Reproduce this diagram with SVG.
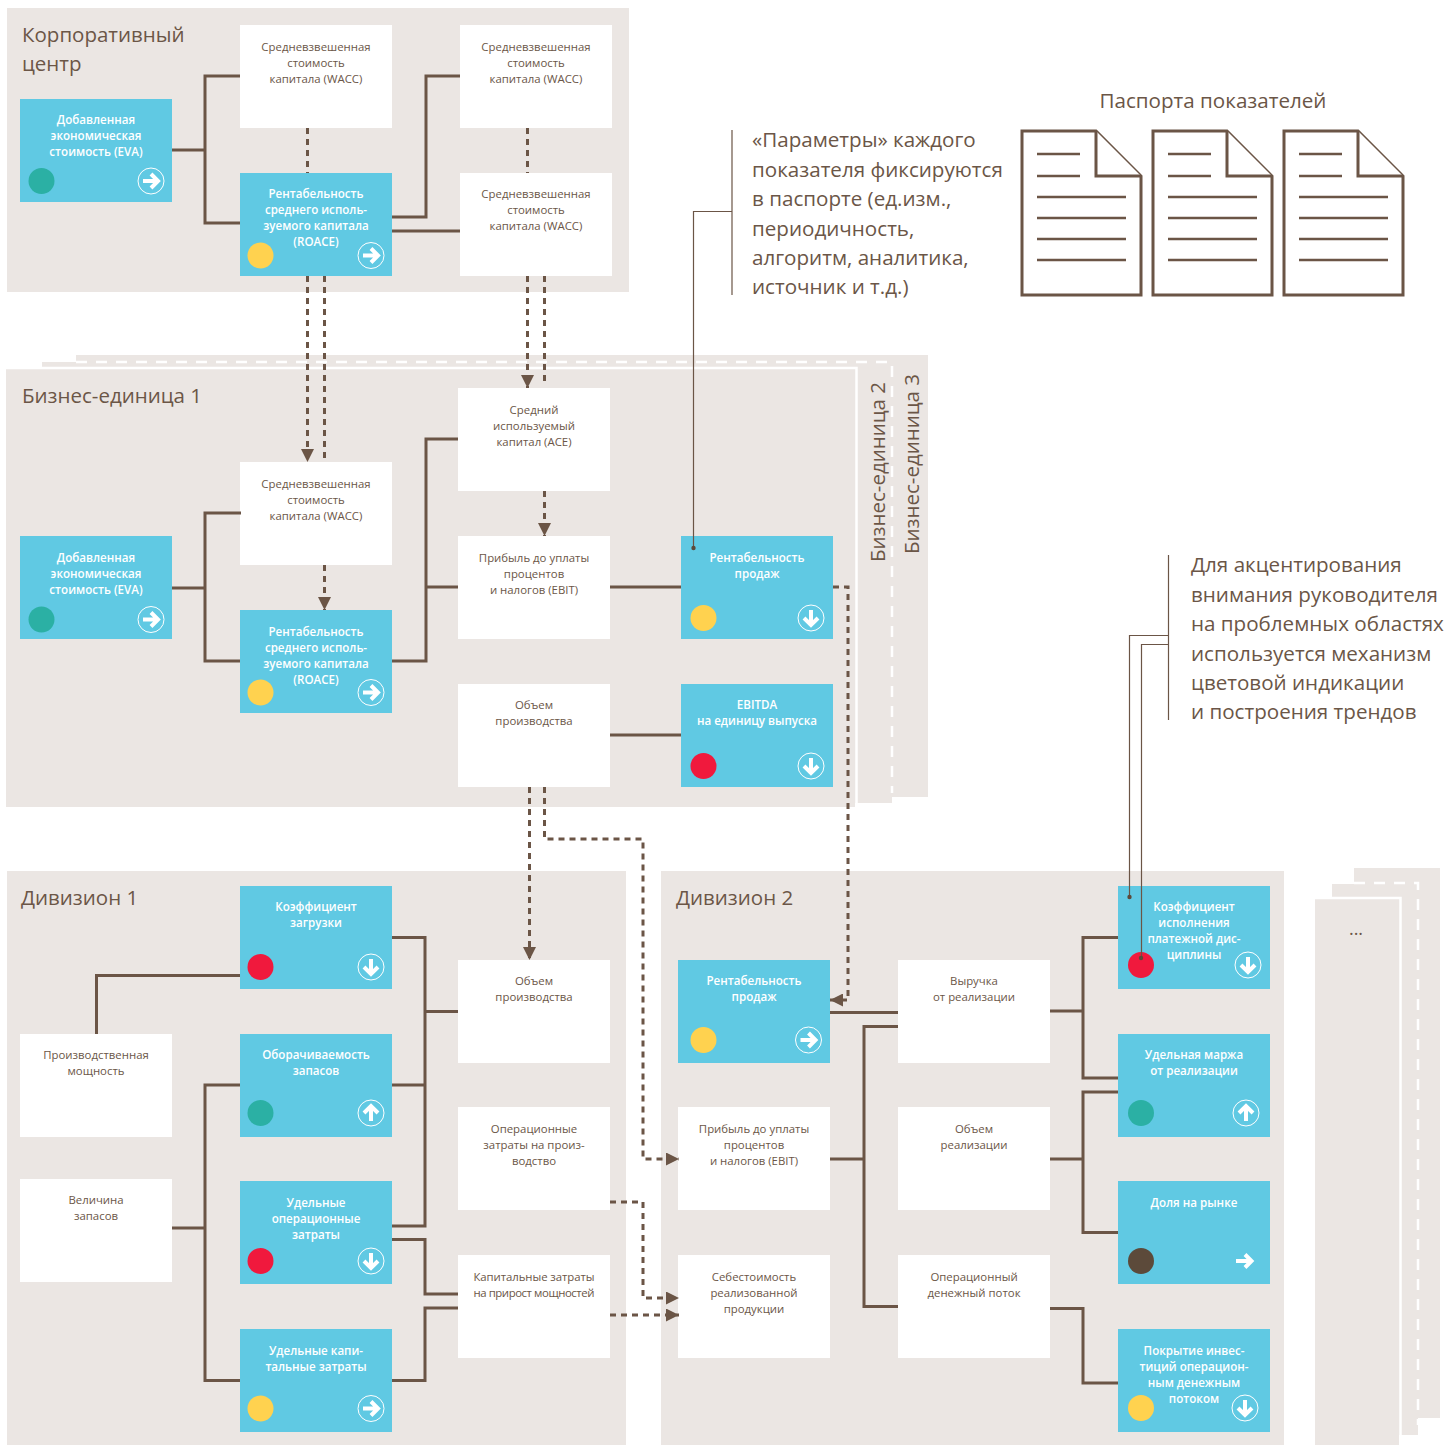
<svg xmlns="http://www.w3.org/2000/svg" xmlns:xlink="http://www.w3.org/1999/xlink" width="1451" height="1445" viewBox="0 0 1451 1445">
<style>
.p{fill:#ebe6e3}
.w{fill:#fff}
.b{fill:#60c9e3}
.ln{fill:none;stroke:#6b5546;stroke-width:3}
.d{fill:none;stroke:#6b5546;stroke-width:3;stroke-dasharray:6 5}
.th{fill:none;stroke:#6b5546;stroke-width:1.2}
.wd{fill:none;stroke:#fff;stroke-width:2.5;stroke-dasharray:11 9}
.ws{fill:none;stroke:#fff;stroke-width:2.5}
text{font-family:"Open Sans","Noto Sans","DejaVu Sans",sans-serif}
.t{font-size:11.4px;fill:#6b5647;text-anchor:middle}
.tb{font-size:11.6px;fill:#fff;font-weight:600;text-anchor:middle}
.h{font-size:20.5px;fill:#6b5647}
.n{font-size:20.6px;fill:#6b5647}
.teal{fill:#2bb0a4}.yel{fill:#ffd24f}.red{fill:#f0193d}.dk{fill:#5c4a3a}
.ic{fill:none;stroke:#fff;stroke-width:1}
.ar{fill:none;stroke:#fff;stroke-width:4}
.doc{fill:#fff;stroke:#6b5546;stroke-width:3;stroke-linejoin:miter}
.dl{fill:none;stroke:#6b5546;stroke-width:2.4}
</style>
<defs>
<g id="right"><circle class="ic" r="13"/><path class="ar" d="M-8,0H6M0,-7L7,0L0,7"/></g>
<g id="down"><circle class="ic" r="13"/><path class="ar" d="M0,-8V6M-7,0L0,7L7,0"/></g>
<g id="up"><circle class="ic" r="13"/><path class="ar" d="M0,8V-6M-7,0L0,-7L7,0"/></g>
<marker id="ah" viewBox="0 0 10 10" refX="10" refY="5" markerUnits="userSpaceOnUse" markerWidth="13" markerHeight="13" orient="auto"><path d="M0,0L10,5L0,10Z" fill="#6b5546"/></marker>
<g id="doc"><path class="doc" d="M1022,131H1096L1141,176V295H1022Z"/><path class="doc" d="M1096,131V176H1141"/><path class="dl" d="M1037,154H1080M1037,176H1080M1037,197H1126M1037,218H1126M1037,239H1126M1037,260H1126"/></g>
</defs>

<g id="backgrounds">
<rect class="p" x="7" y="8" width="622" height="284"/>
<rect class="p" x="76" y="355" width="852" height="442"/>
<rect class="p" x="42" y="362" width="850" height="441"/>
<path class="wd" d="M76,362H892V793"/>
<rect class="p" x="6" y="369" width="849" height="438"/>
<path class="ws" d="M6,368H856.500V807"/>
<rect class="p" x="7" y="871" width="619" height="574"/>
<rect class="p" x="661" y="871" width="623" height="574"/>
<rect class="p" x="1354" y="868" width="86" height="550"/>
<rect class="p" x="1332" y="884" width="86" height="551"/>
<path class="wd" d="M1354,883H1418V1425"/>
<rect class="p" x="1315" y="899" width="84" height="546"/>
<path class="ws" d="M1315,898H1400.500V1445"/>
</g>

<g id="titles">
<text class="h" x="22" y="42">Корпоративный</text>
<text class="h" x="22" y="71">центр</text>
<text class="h" x="22" y="403">Бизнес-единица 1</text>
<text class="h" x="21" y="905">Дивизион 1</text>
<text class="h" x="676" y="905">Дивизион 2</text>
<text class="h" transform="translate(885,562) rotate(-90)">Бизнес-единица 2</text>
<text class="h" transform="translate(919,554) rotate(-90)">Бизнес-единица 3</text>
<text class="t" x="1356" y="935" style="font-size:18px">...</text>
</g>

<g id="c-eva"><rect class="b" x="20" y="99" width="152" height="103"/><text class="tb"><tspan x="96" y="124">Добавленная</tspan><tspan x="96" y="140">экономическая</tspan><tspan x="96" y="156">стоимость (EVA)</tspan></text><circle class="teal" cx="41.500" cy="181" r="13"/><use href="#right" x="151" y="181"/></g>
<g id="c-wacc1"><rect class="w" x="240" y="25" width="152" height="103"/><text class="t"><tspan x="316" y="51">Средневзвешенная</tspan><tspan x="316" y="67">стоимость</tspan><tspan x="316" y="83">капитала (WACC)</tspan></text></g>
<g id="c-wacc2"><rect class="w" x="460" y="25" width="152" height="103"/><text class="t"><tspan x="536" y="51">Средневзвешенная</tspan><tspan x="536" y="67">стоимость</tspan><tspan x="536" y="83">капитала (WACC)</tspan></text></g>
<g id="c-roace"><rect class="b" x="240" y="173" width="152" height="103"/><text class="tb"><tspan x="316" y="198">Рентабельность</tspan><tspan x="316" y="214">среднего исполь-</tspan><tspan x="316" y="230">зуемого капитала</tspan><tspan x="316" y="246">(ROACE)</tspan></text><circle class="yel" cx="260.500" cy="255.500" r="13"/><use href="#right" x="371" y="255.500"/></g>
<g id="c-wacc3"><rect class="w" x="460" y="173" width="152" height="103"/><text class="t"><tspan x="536" y="198">Средневзвешенная</tspan><tspan x="536" y="214">стоимость</tspan><tspan x="536" y="230">капитала (WACC)</tspan></text></g>

<g id="b-eva"><rect class="b" x="20" y="536" width="152" height="103"/><text class="tb"><tspan x="96" y="562">Добавленная</tspan><tspan x="96" y="578">экономическая</tspan><tspan x="96" y="594">стоимость (EVA)</tspan></text><circle class="teal" cx="41.500" cy="619.500" r="13"/><use href="#right" x="151" y="619.500"/></g>
<g id="b-wacc"><rect class="w" x="240" y="462" width="152" height="103"/><text class="t"><tspan x="316" y="488">Средневзвешенная</tspan><tspan x="316" y="504">стоимость</tspan><tspan x="316" y="520">капитала (WACC)</tspan></text></g>
<g id="b-roace"><rect class="b" x="240" y="610" width="152" height="103"/><text class="tb"><tspan x="316" y="636">Рентабельность</tspan><tspan x="316" y="652">среднего исполь-</tspan><tspan x="316" y="668">зуемого капитала</tspan><tspan x="316" y="684">(ROACE)</tspan></text><circle class="yel" cx="260.500" cy="692.500" r="13"/><use href="#right" x="371" y="692.500"/></g>
<g id="b-ace"><rect class="w" x="458" y="388" width="152" height="103"/><text class="t"><tspan x="534" y="414">Средний</tspan><tspan x="534" y="430">используемый</tspan><tspan x="534" y="446">капитал (ACE)</tspan></text></g>
<g id="b-ebit"><rect class="w" x="458" y="536" width="152" height="103"/><text class="t"><tspan x="534" y="562">Прибыль до уплаты</tspan><tspan x="534" y="578">процентов</tspan><tspan x="534" y="594">и налогов (EBIT)</tspan></text></g>
<g id="b-vol"><rect class="w" x="458" y="684" width="152" height="103"/><text class="t"><tspan x="534" y="709">Объем</tspan><tspan x="534" y="725">производства</tspan></text></g>
<g id="b-ros"><rect class="b" x="681" y="536" width="152" height="103"/><text class="tb"><tspan x="757" y="562">Рентабельность</tspan><tspan x="757" y="578">продаж</tspan></text><circle class="yel" cx="703.500" cy="618" r="13"/><use href="#down" x="811" y="618"/></g>
<g id="b-ebitda"><rect class="b" x="681" y="684" width="152" height="103"/><text class="tb"><tspan x="757" y="709">EBITDA</tspan><tspan x="757" y="725">на единицу выпуска</tspan></text><circle class="red" cx="703.500" cy="766" r="13"/><use href="#down" x="811" y="766"/></g>

<g id="d1-load"><rect class="b" x="240" y="886" width="152" height="103"/><text class="tb"><tspan x="316" y="911">Коэффициент</tspan><tspan x="316" y="927">загрузки</tspan></text><circle class="red" cx="260.500" cy="967" r="13"/><use href="#down" x="371" y="967"/></g>
<g id="d1-cap"><rect class="w" x="20" y="1034" width="152" height="103"/><text class="t"><tspan x="96" y="1059">Производственная</tspan><tspan x="96" y="1075">мощность</tspan></text></g>
<g id="d1-turn"><rect class="b" x="240" y="1034" width="152" height="103"/><text class="tb"><tspan x="316" y="1059">Оборачиваемость</tspan><tspan x="316" y="1075">запасов</tspan></text><circle class="teal" cx="260.500" cy="1113" r="13"/><use href="#up" x="371" y="1113"/></g>
<g id="d1-stock"><rect class="w" x="20" y="1179" width="152" height="103"/><text class="t"><tspan x="96" y="1204">Величина</tspan><tspan x="96" y="1220">запасов</tspan></text></g>
<g id="d1-opex"><rect class="b" x="240" y="1181" width="152" height="103"/><text class="tb"><tspan x="316" y="1207">Удельные</tspan><tspan x="316" y="1223">операционные</tspan><tspan x="316" y="1239">затраты</tspan></text><circle class="red" cx="260.500" cy="1261" r="13"/><use href="#down" x="371" y="1261"/></g>
<g id="d1-capex"><rect class="b" x="240" y="1329" width="152" height="103"/><text class="tb"><tspan x="316" y="1355">Удельные капи-</tspan><tspan x="316" y="1371">тальные затраты</tspan></text><circle class="yel" cx="260.500" cy="1408.500" r="13"/><use href="#right" x="371" y="1408.500"/></g>
<g id="d1-vol"><rect class="w" x="458" y="960" width="152" height="103"/><text class="t"><tspan x="534" y="985">Объем</tspan><tspan x="534" y="1001">производства</tspan></text></g>
<g id="d1-ocost"><rect class="w" x="458" y="1107" width="152" height="103"/><text class="t"><tspan x="534" y="1133">Операционные</tspan><tspan x="534" y="1149">затраты на произ-</tspan><tspan x="534" y="1165">водство</tspan></text></g>
<g id="d1-ccost"><rect class="w" x="458" y="1255" width="152" height="103"/><text class="t"><tspan x="534" y="1281" textLength="121">Капитальные затраты</tspan><tspan x="534" y="1297" textLength="121">на прирост мощностей</tspan></text></g>

<g id="d2-ros"><rect class="b" x="678" y="960" width="152" height="103"/><text class="tb"><tspan x="754" y="985">Рентабельность</tspan><tspan x="754" y="1001">продаж</tspan></text><circle class="yel" cx="703.500" cy="1040" r="13"/><use href="#right" x="808.500" y="1040"/></g>
<g id="d2-ebit"><rect class="w" x="678" y="1107" width="152" height="103"/><text class="t"><tspan x="754" y="1133">Прибыль до уплаты</tspan><tspan x="754" y="1149">процентов</tspan><tspan x="754" y="1165">и налогов (EBIT)</tspan></text></g>
<g id="d2-cogs"><rect class="w" x="678" y="1255" width="152" height="103"/><text class="t"><tspan x="754" y="1281">Себестоимость</tspan><tspan x="754" y="1297">реализованной</tspan><tspan x="754" y="1313">продукции</tspan></text></g>
<g id="d2-rev"><rect class="w" x="898" y="960" width="152" height="103"/><text class="t"><tspan x="974" y="985">Выручка</tspan><tspan x="974" y="1001">от реализации</tspan></text></g>
<g id="d2-vol"><rect class="w" x="898" y="1107" width="152" height="103"/><text class="t"><tspan x="974" y="1133">Объем</tspan><tspan x="974" y="1149">реализации</tspan></text></g>
<g id="d2-ocf"><rect class="w" x="898" y="1255" width="152" height="103"/><text class="t"><tspan x="974" y="1281">Операционный</tspan><tspan x="974" y="1297">денежный поток</tspan></text></g>
<g id="d2-pay"><rect class="b" x="1118" y="886" width="152" height="103"/><text class="tb"><tspan x="1194" y="911">Коэффициент</tspan><tspan x="1194" y="927">исполнения</tspan><tspan x="1194" y="943">платежной дис-</tspan><tspan x="1194" y="959">циплины</tspan></text><circle class="red" cx="1141" cy="965" r="13"/><use href="#down" x="1248" y="965"/></g>
<g id="d2-margin"><rect class="b" x="1118" y="1034" width="152" height="103"/><text class="tb"><tspan x="1194" y="1059">Удельная маржа</tspan><tspan x="1194" y="1075">от реализации</tspan></text><circle class="teal" cx="1141" cy="1113" r="13"/><use href="#up" x="1246" y="1113"/></g>
<g id="d2-share"><rect class="b" x="1118" y="1181" width="152" height="103"/><text class="tb"><tspan x="1194" y="1207">Доля на рынке</tspan></text><circle class="dk" cx="1141" cy="1261" r="13"/><path class="ar" d="M1236,1261H1251M1245,1254.500L1251.500,1261L1245,1267.500"/></g>
<g id="d2-cover"><rect class="b" x="1118" y="1329" width="152" height="103"/><text class="tb"><tspan x="1194" y="1355">Покрытие инвес-</tspan><tspan x="1194" y="1371">тиций операцион-</tspan><tspan x="1194" y="1387">ным денежным</tspan><tspan x="1194" y="1403">потоком</tspan></text><circle class="yel" cx="1141" cy="1408" r="13"/><use href="#down" x="1245" y="1408"/></g>

<g id="passports">
<text class="n" x="1213" y="108" text-anchor="middle">Паспорта показателей</text>
<use href="#doc"/><use href="#doc" x="131"/><use href="#doc" x="262"/>
</g>
<g id="notes">
<text class="n"><tspan x="752" y="147">«Параметры» каждого</tspan><tspan x="752" y="177">показателя фиксируются</tspan><tspan x="752" y="206">в паспорте (ед.изм.,</tspan><tspan x="752" y="236">периодичность,</tspan><tspan x="752" y="265">алгоритм, аналитика,</tspan><tspan x="752" y="294">источник и т.д.)</tspan></text>
<text class="n"><tspan x="1191" y="572">Для акцентирования</tspan><tspan x="1191" y="602">внимания руководителя</tspan><tspan x="1191" y="631">на проблемных областях</tspan><tspan x="1191" y="661">используется механизм</tspan><tspan x="1191" y="690">цветовой индикации</tspan><tspan x="1191" y="719">и построения трендов</tspan></text>
</g>

<g id="connectors">
<path class="ln" d="M172,150H205M240,76H205V223H240"/>
<path class="ln" d="M392,217H426V76H460M392,231H460"/>
<path class="d" d="M307.500,128V173M527.500,128V173"/>
<path class="d" d="M307.500,276V462" marker-end="url(#ah)"/>
<path class="d" d="M324.500,276V462"/>
<path class="d" d="M527.500,276V388" marker-end="url(#ah)"/>
<path class="d" d="M544.500,276V385"/>
<path class="ln" d="M172,588H205M241,513H205V661H240"/>
<path class="ln" d="M392,661H426V439H458M426,587H458"/>
<path class="d" d="M324.500,565V610" marker-end="url(#ah)"/>
<path class="d" d="M544.500,491V536" marker-end="url(#ah)"/>
<path class="ln" d="M610,587H681M610,735H681"/>
<path class="d" d="M833,587H848V1000H830" marker-end="url(#ah)"/>
<path class="d" d="M529.500,787V960" marker-end="url(#ah)"/>
<path class="d" d="M544.500,787V839H643V1159H679" marker-end="url(#ah)"/>
<path class="d" d="M610,1202H643V1298H679" marker-end="url(#ah)"/>
<path class="d" d="M610,1315H679" marker-end="url(#ah)"/>
<path class="ln" d="M96.500,1034V975.500H240"/>
<path class="ln" d="M172,1228H205M240,1085H205V1380.500H240"/>
<path class="ln" d="M392,937.500H425V1226H392M425,1011.500H458M392,1085H425"/>
<path class="ln" d="M392,1239.500H425V1294H458M392,1380.500H425V1308H458"/>
<path class="ln" d="M830,1012.500H898M898,1026.500H864V1306.500H898M830,1159H864"/>
<path class="ln" d="M1050,1011H1083M1118,937.500H1083V1078H1118"/>
<path class="ln" d="M1050,1159H1083M1118,1092H1083V1232.500H1118"/>
<path class="ln" d="M1050,1308.500H1083V1383H1118"/>
<path class="th" d="M732,130V295M732,211.500H693.500V548"/>
<path class="th" d="M1168.500,555V720M1168.500,635.500H1129.500V897M1168.500,644.500H1141.500V958"/>
<circle class="dk" cx="693.500" cy="548" r="2.200"/><circle class="dk" cx="1129.500" cy="897" r="2.200"/><circle class="dk" cx="1141" cy="958" r="2.200"/>
</g>
</svg>
